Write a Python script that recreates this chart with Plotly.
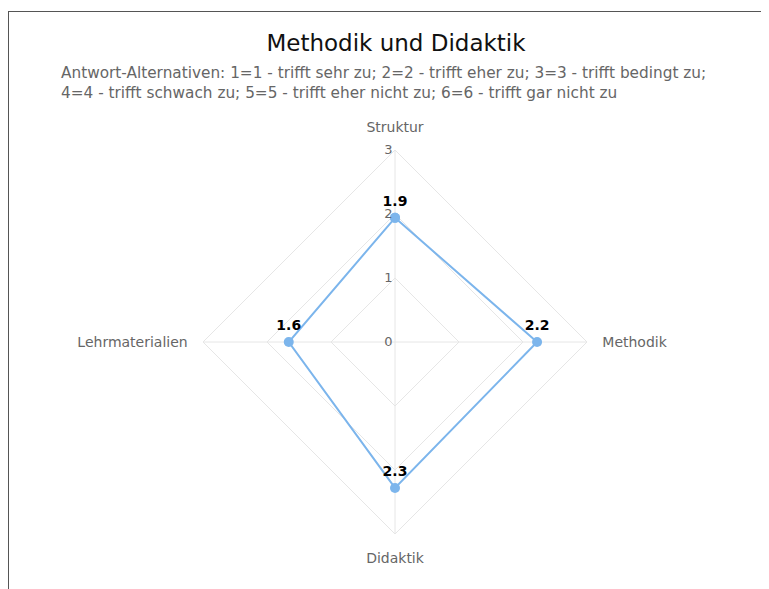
import plotly.graph_objects as go

categories = ["Struktur", "Methodik", "Didaktik", "Lehrmaterialien"]
values = [1.94, 2.22, 2.28, 1.66]
labels = ["1.9", "2.2", "2.3", "1.6"]
radial_ticks = [0, 1, 2, 3]

W, H = 769, 589
OFF = 8  # page body margin offset
cx, cy, R = 395 - OFF, 342 - OFF, 192

fig = go.Figure()
fig.add_trace(go.Scatterpolar(
    r=values + values[:1],
    theta=categories + categories[:1],
    mode="lines+markers",
    line=dict(color="#7cb5ec", width=2),
    marker=dict(color="#7cb5ec", size=10),
    hoverinfo="skip",
    showlegend=False,
))
fig.add_trace(go.Scatterpolar(
    r=values,
    theta=categories,
    mode="markers+text",
    text=labels,
    textposition="top center",
    marker=dict(size=12, color="rgba(0,0,0,0)"),
    textfont=dict(family="DejaVu Sans", size=14, color="#000000", weight="bold"),
    hoverinfo="skip",
    showlegend=False,
))

fig.update_layout(
    width=W, height=H,
    margin=dict(l=0, r=0, t=0, b=0),
    paper_bgcolor="white",
    font=dict(family="DejaVu Sans", color="#666666", size=14),
    title=dict(text="Methodik und Didaktik", x=(396 - OFF) / W, xanchor="center",
               y=1 - (43 - OFF) / H, yanchor="middle", yref="container",
               font=dict(family="DejaVu Sans", size=23, color="#111111")),
    polar=dict(
        domain=dict(x=[(cx - R) / W, (cx + R) / W],
                    y=[(H - (cy + R)) / H, (H - (cy - R)) / H]),
        gridshape="linear",
        bgcolor="white",
        angularaxis=dict(direction="clockwise", rotation=90,
                         showline=True, linecolor="#e6e6e6", linewidth=1,
                         gridcolor="#e6e6e6", ticks="outside", ticklen=12,
                         tickcolor="rgba(0,0,0,0)",
                         tickfont=dict(size=14, color="#666666")),
        radialaxis=dict(range=[0, 3], tickvals=radial_ticks, angle=90,
                        side="counterclockwise",
                        showline=False, gridcolor="#e6e6e6", ticks="",
                        tickfont=dict(size=13, color="#666666"), tickangle=90),
    ),
    annotations=[dict(
        text="Antwort-Alternativen: 1=1 - trifft sehr zu; 2=2 - trifft eher zu; 3=3 - trifft bedingt zu;<br>4=4 - trifft schwach zu; 5=5 - trifft eher nicht zu; 6=6 - trifft gar nicht zu",
        x=(59 - OFF) / W, y=1 - (62 - OFF) / H, xref="paper", yref="paper",
        xanchor="left", yanchor="top", align="left", showarrow=False,
        font=dict(family="DejaVu Sans", size=15.3, color="#666666"),
    )],
    shapes=[
        dict(type="line", xref="paper", yref="paper", x0=0, x1=1, y0=1 - (11.5 - OFF) / H, y1=1 - (11.5 - OFF) / H,
             line=dict(color="#555555", width=1)),
        dict(type="line", xref="paper", yref="paper", x0=0.5 / W, x1=0.5 / W, y0=0, y1=1 - (11.5 - OFF) / H,
             line=dict(color="#555555", width=1)),
    ],
)

fig.write_html("out.html")
